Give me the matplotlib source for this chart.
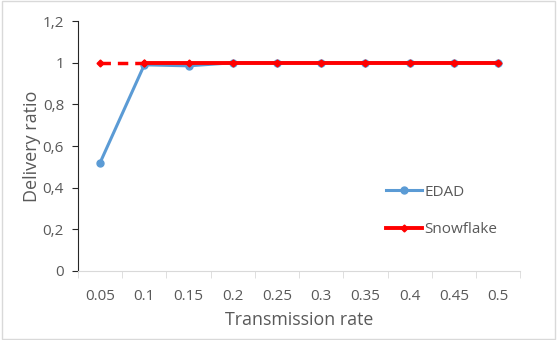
import matplotlib.pyplot as plt
from matplotlib.patches import Rectangle

rates = ['0.05', '0.1', '0.15', '0.2', '0.25', '0.3', '0.35', '0.4', '0.45', '0.5']
edad = [0.52, 0.99, 0.985, 1, 1, 1, 1, 1, 1, 1]
snowflake = [1, 1, 1, 1, 1, 1, 1, 1, 1, 1]
y_ticks = [0, 0.2, 0.4, 0.6, 0.8, 1, 1.2]
y_labels = ['0', '0,2', '0,4', '0,6', '0,8', '1', '1,2']

plt.rcParams['font.family'] = ['Open Sans', 'DejaVu Sans']
text_col = '#595959'

fig = plt.figure(figsize=(5.57, 3.40), dpi=100)
ax = fig.add_axes([0.140, 0.203, 0.794, 0.735])

x = list(range(len(rates)))
blue = '#5b9bd5'
red = '#ff0000'

ax.plot(x, edad, color=blue, lw=2.2, marker='o', ms=5, label='EDAD', zorder=3)
# dashed first segment for Snowflake, solid afterwards
ax.plot(x[:2], snowflake[:2], color=red, lw=2.5, ls=(0, (3, 2)), marker='D', ms=3.5, zorder=4)
ax.plot(x[1:], snowflake[1:], color=red, lw=2.8, marker='D', ms=3.5, zorder=4)
ax.plot([], [], color=red, lw=2.8, marker='D', ms=3.5, label='Snowflake')

ax.set_xlim(-0.5, len(rates) - 0.5)
ax.set_ylim(0, 1.2)
ax.set_yticks(y_ticks)
ax.set_yticklabels(y_labels)
ax.set_xticks(x)
ax.set_xticklabels(rates)
ax.set_xticks([i - 0.5 for i in range(len(rates) + 1)], minor=True)

ax.tick_params(axis='x', which='major', length=0, pad=13, labelsize=11, labelcolor=text_col)
ax.tick_params(axis='x', which='minor', length=5, color='#d9d9d9', direction='out')
ax.tick_params(axis='y', length=4, color='#262626', labelsize=11, labelcolor=text_col, pad=6)

for s in ['top', 'right']:
    ax.spines[s].set_visible(False)
ax.spines['left'].set_color('#262626')
ax.spines['bottom'].set_color('#d9d9d9')

ax.set_xlabel('Transmission rate', fontsize=12.8, color=text_col, labelpad=5)
ax.set_ylabel('Delivery ratio', fontsize=13, color=text_col, labelpad=1)

leg = ax.legend(loc='upper left', bbox_to_anchor=(0.665, 0.40), frameon=False,
                fontsize=11, handlelength=2.4, handletextpad=0.1, labelspacing=1.45)
for t in leg.get_texts():
    t.set_color(text_col)

fig.patches.append(Rectangle((0.003, 0.003), 0.994, 0.994, transform=fig.transFigure,
                             fill=False, edgecolor='#d9d9d9', lw=1))

fig.savefig('out.png', dpi=100)
